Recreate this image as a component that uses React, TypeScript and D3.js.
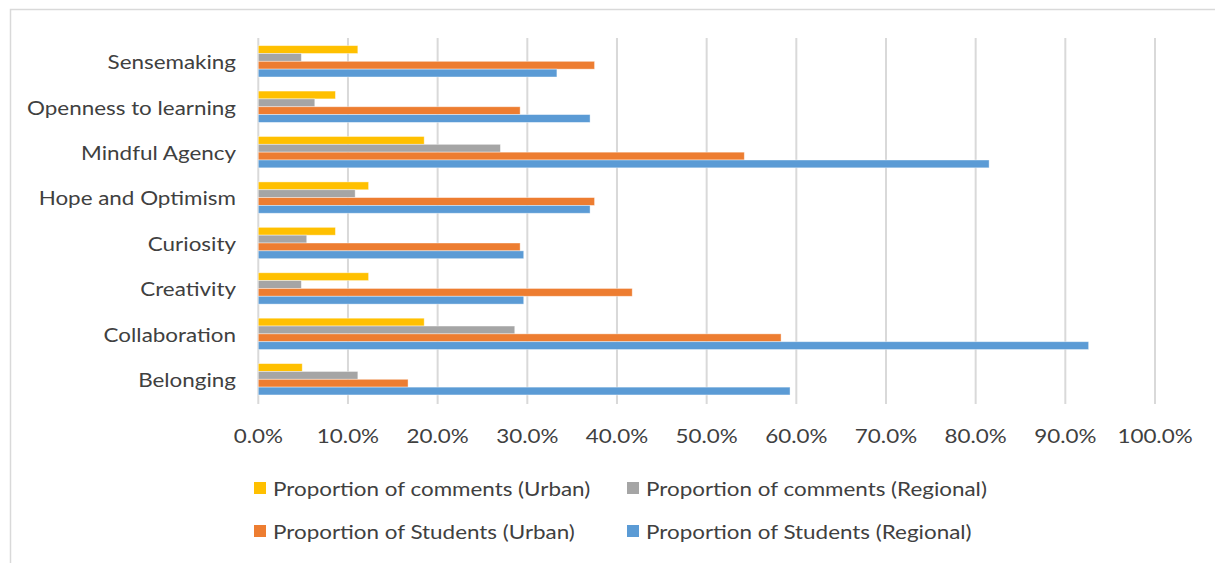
import * as d3 from 'd3';

const categories = [
  'Sensemaking',
  'Openness to learning',
  'Mindful Agency',
  'Hope and Optimism',
  'Curiosity',
  'Creativity',
  'Collaboration',
  'Belonging'
];

const seriesNames = [
  'Proportion of comments (Urban)',
  'Proportion of comments (Regional)',
  'Proportion of Students (Urban)',
  'Proportion of Students (Regional)'
];

const commentsUrban = [11.1, 8.6, 18.5, 12.3, 8.6, 12.3, 18.5, 4.9];
const commentsRegional = [4.8, 6.3, 27.0, 10.8, 5.4, 4.8, 28.6, 11.1];
const studentsUrban = [37.5, 29.2, 54.2, 37.5, 29.2, 41.7, 58.3, 16.7];
const studentsRegional = [33.3, 37.0, 81.5, 37.0, 29.6, 29.6, 92.6, 59.3];

const xTicks = [0, 10, 20, 30, 40, 50, 60, 70, 80, 90, 100];

const colors = ['#FFC000', '#A5A5A5', '#ED7D31', '#5B9BD5'];

const W = 1215;
const H = 563;
const FONT = 'Lato, "Open Sans", sans-serif';
// the source text is a wide Calibri-like face; stretch Lato to match it
const SX = 1.18;

function Label({
  x,
  y,
  anchor,
  children
}: {
  x: number;
  y: number;
  anchor: 'start' | 'middle' | 'end';
  children: string;
}): JSX.Element {
  return (
    <text
      transform={`translate(${x},${y}) scale(${SX},1)`}
      textAnchor={anchor}
      dominantBaseline="central"
      fontSize={19}
      fill="#404040"
    >
      {children}
    </text>
  );
}

export default function App(): JSX.Element {
  const values = [commentsUrban, commentsRegional, studentsUrban, studentsRegional];

  const x = d3.scaleLinear().domain([0, 100]).range([258.3, 1155]);
  const y = d3
    .scaleBand<string>()
    .domain(categories)
    .range([38.6, 402])
    .paddingInner(0.31)
    .paddingOuter(0.155);
  const inner = d3
    .scaleBand<string>()
    .domain(seriesNames)
    .range([0, y.bandwidth()]);

  const grid = xTicks.map((t) => (
    <line
      key={t}
      x1={x(t)}
      x2={x(t)}
      y1={38}
      y2={404}
      stroke="#d9d9d9"
      strokeWidth={2}
    />
  ));

  const bars = categories.map((c, i) => (
    <g key={c} transform={`translate(0,${y(c)})`}>
      {seriesNames.map((s, j) => (
        <rect
          key={s}
          x={x(0)}
          y={inner(s)}
          width={x(values[j][i]) - x(0)}
          height={inner.bandwidth()}
          fill={colors[j]}
          stroke="#ffffff"
          strokeOpacity={0.5}
          strokeWidth={0.8}
        />
      ))}
    </g>
  ));

  const catLabels = categories.map((c) => (
    <Label key={c} x={236} y={(y(c) as number) + y.bandwidth() / 2} anchor="end">
      {c}
    </Label>
  ));

  const tickLabels = xTicks.map((t) => (
    <Label key={t} x={x(t)} y={435} anchor="middle">
      {d3.format('.1f')(t) + '%'}
    </Label>
  ));

  const legendPos = [
    [254, 488],
    [627, 488],
    [254, 531],
    [627, 531]
  ];
  const legend = seriesNames.map((s, j) => (
    <g key={s}>
      <rect
        x={legendPos[j][0]}
        y={legendPos[j][1] - 6}
        width={12}
        height={12}
        fill={colors[j]}
      />
      <Label x={legendPos[j][0] + 19} y={legendPos[j][1]} anchor="start">
        {s}
      </Label>
    </g>
  ));

  return (
    <div style={{ position: 'fixed', left: 0, top: 0 }}>
      <svg
        xmlns="http://www.w3.org/2000/svg"
        width={W}
        height={H}
        fontFamily={FONT}
        style={{ display: 'block', background: '#fff' }}
      >
        <rect x={10.5} y={9.5} width={W} height={H} fill="#fff" stroke="#d9d9d9" strokeWidth={1.5} />
        <g>{grid}</g>
        <g>{bars}</g>
        <g>{catLabels}</g>
        <g>{tickLabels}</g>
        <g>{legend}</g>
      </svg>
    </div>
  );
}
